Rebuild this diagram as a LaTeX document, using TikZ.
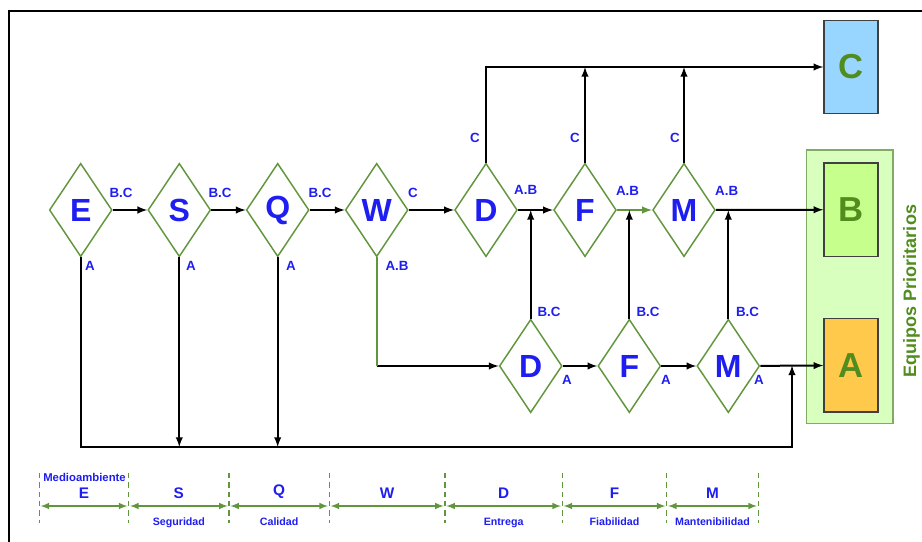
\documentclass[tikz,border=0pt]{standalone}
\usepackage{fontspec}
\setmainfont{Liberation Sans}
\usetikzlibrary{shapes.geometric}
\definecolor{gateline}{RGB}{98,150,60}
\definecolor{boxtext}{RGB}{80,140,30}
\definecolor{tagblue}{RGB}{30,30,240}

\begin{document}
\begin{tikzpicture}[x=0.75pt, y=-0.75pt,
        gate/.style={diamond, draw=gateline, line width=1.1pt, fill=white, minimum width=47pt, minimum height=70pt, inner sep=0pt, text=tagblue, font=\bfseries\fontsize{24}{24}\selectfont},
        tag/.style={text=tagblue, font=\bfseries\fontsize{10}{10}\selectfont, inner sep=0pt},
        target/.style={rectangle, draw=black!75, line width=1pt, minimum width=40.5pt, minimum height=70pt, text=boxtext, font=\bfseries\fontsize{26}{26}\selectfont},
        every edge/.style={draw, line width=1.5pt, -latex}
    ]
        \useasboundingbox (0,0) rectangle (922,542);
        \draw[line width=1.5pt] (9,542) -- (9,11) -- (922,11);

        % Priority boxes
        \node[rectangle, draw=gateline!80, fill=green!60!yellow!25, line width=1pt, minimum width=65pt, minimum height=205pt] (group) at (849.5,286.7) {};
        \node[target, fill=blue!40!cyan!40] (C) at (851,67) {C};
        \node[target, fill=green!50!yellow!45] (B) at (851,209.7) {B};
        \node[target, fill=orange!60!yellow!70] (A) at (851,365.4) {A};
        \node[rotate=90, text=boxtext, font=\bfseries\fontsize{13.5}{13.5}\selectfont] (equipos) at (911.5,291) {Equipos Prioritarios};

        % Decision diamonds
        \node[gate] (E) at (80.7,210) {E};
        \node[gate] (S) at (179.3,210) {S};
        \node[gate] (Q) at (277.7,210) {Q};
        \node[gate] (W) at (376.7,210) {W};
        \node[gate] (D1) at (486,210) {D};
        \node[gate] (F1) at (585,210) {F};
        \node[gate] (M1) at (684,210) {M};
        \node[gate] (D2) at (530.7,366) {D};
        \node[gate] (F2) at (629.3,366) {F};
        \node[gate] (M2) at (728.3,366) {M};

        % Branch tags
        \node[tag] (tE1) at (121,193) {B.C};  \node[tag] (tE2) at (90,266) {A};
        \node[tag] (tS1) at (220,193) {B.C};  \node[tag] (tS2) at (191,266) {A};
        \node[tag] (tQ1) at (320,193) {B.C};  \node[tag] (tQ2) at (291,266) {A};
        \node[tag] (tW1) at (413,193) {C};    \node[tag] (tW2) at (397,266) {A.B};
        \node[tag] (tD1a) at (475,138) {C};   \node[tag] (tD1b) at (525.7,190) {A.B};
        \node[tag] (tF1a) at (575,138) {C};   \node[tag] (tF1b) at (627.5,191) {A.B};
        \node[tag] (tM1a) at (675,138) {C};   \node[tag] (tM1b) at (726.7,191) {A.B};
        \node[tag] (tD2a) at (549,312) {B.C}; \node[tag] (tD2b) at (567,380) {A};
        \node[tag] (tF2a) at (648,312) {B.C}; \node[tag] (tF2b) at (666,380) {A};
        \node[tag] (tM2a) at (747.5,312) {B.C}; \node[tag] (tM2b) at (759,380) {A};

        % Corners
        \coordinate (wturn) at (W.south |- D2.west);
        \coordinate (bl) at (E.south |- 0,447);
        \coordinate (br) at (792,447);

        % Flows
        \path
            (E) edge (S)
            (S) edge (Q)
            (Q) edge (W)
            (W) edge (D1)
            (D1) edge (F1)
            (F1) edge[draw=gateline, -latex] (M1)
            (M1) edge (B)
            (F1.north) edge (F1.north |- C.west)
            (M1.north) edge (M1.north |- C.west)
            (D2.north) edge (D2.north |- D1.east)
            (F2.north) edge (F2.north |- F1.east)
            (M2.north) edge (M2.north |- M1.east)
            (wturn) edge (D2)
            (D2) edge (F2)
            (F2) edge (M2)
            (M2) edge (A)
            (S.south) edge (S.south |- bl)
            (Q.south) edge (Q.south |- bl);
        \draw[line width=1.5pt, -latex] (D1.north) |- (C.west);
        \draw[line width=1.5pt, draw=gateline] (W.south) -- (wturn);
        \draw[line width=1.5pt, -latex] (E.south) -- (bl) -- (br) -- (br |- A.west);

        % Scale
        \foreach \x [count=\i] in {39.3,128.7,229,329.3,445,562.3,666.7,758.3} {
            \coordinate (t\i) at (\x,506);
            \draw[gateline, line width=1.1pt, dash pattern=on 4pt off 3pt] (\x,473) -- (\x,523);
        }
        \foreach \i/\j/\up/\down in {1/2/E/{}, 2/3/S/Seguridad, 3/4/Q/Calidad, 4/5/W/{}, 5/6/D/Entrega, 6/7/F/Fiabilidad, 7/8/M/Mantenibilidad} {
            \draw[gateline, line width=1.2pt, latex-latex, shorten <=1pt, shorten >=1pt] (t\i) -- (t\j)
                node[midway, above=1.5pt, text=tagblue, font=\bfseries\fontsize{11.5}{11.5}\selectfont] {\up}
                node[midway, below=5pt, text=tagblue, font=\bfseries\fontsize{8}{8}\selectfont] {\down};
        }
        \node[anchor=west, text=tagblue, font=\bfseries\fontsize{8.5}{8.5}\selectfont, inner sep=0pt] (medio) at (43,477) {Medioambiente};
    \end{tikzpicture}
\end{document}
